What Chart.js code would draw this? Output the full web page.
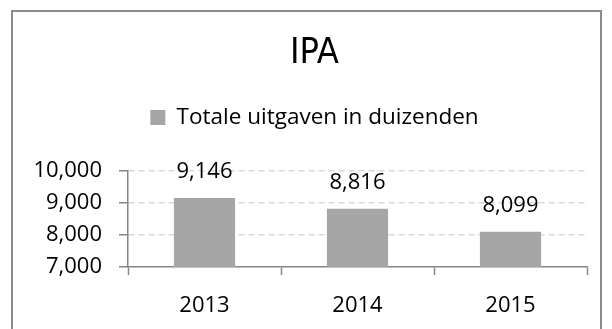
<!DOCTYPE html>
<html>
<head>
<meta charset="utf-8">
<script src="https://cdn.jsdelivr.net/npm/chart.js@4.4.1/dist/chart.umd.min.js"></script>
<style>
  html, body { margin: 0; padding: 0; background: #fff; }
  #frame {
    position: absolute; left: 11px; top: 10px;
    width: 591px; height: 400px;
    box-sizing: border-box;
    border: 2px solid #8c8c8c;
  }
  #grafiek { position: absolute; left: 0; top: 0; }
</style>
</head>
<body>
<div id="frame"></div>
<canvas id="grafiek" width="612" height="329"></canvas>
<script>
// Totale uitgaven IPA per jaar (in duizenden)
const jaren = ['2013', '2014', '2015'];
const uitgaven = [9146, 8816, 8099];
const asMin = 7000;
const asMax = 10000;
const asStap = 1000;

const asKleur = '#868686';
const balkKleur = '#a6a6a6';
const font = "'Open Sans', 'Liberation Sans', sans-serif";

const fmt = (v) => Number(v).toLocaleString('en-US');

// extra ruimte tussen legenda en grafiek, titel + legenda iets naar rechts
const legendaRuimte = {
    id: 'legendaRuimte',
    beforeInit(chart) {
        const origFit = chart.legend.fit;
        chart.legend.fit = function () {
            origFit.call(this);
            this.height += 32;
        };
    },
    afterLayout(chart) {
        [chart.titleBlock, chart.legend].forEach((b) => {
            b.left += 7;
            b.right += 7;
        });
    }
};

// waarde boven elke balk
const waardeLabels = {
    id: 'waardeLabels',
    afterDatasetsDraw(chart) {
        const ctx = chart.ctx;
        const meta = chart.getDatasetMeta(0);
        ctx.save();
        ctx.font = `22px ${font}`;
        ctx.fillStyle = '#000';
        ctx.textAlign = 'center';
        ctx.textBaseline = 'middle';
        meta.data.forEach((bar, i) => {
            ctx.fillText(fmt(chart.data.datasets[0].data[i]), bar.x, bar.y - 26);
        });
        ctx.restore();
    }
};

new Chart(document.getElementById('grafiek').getContext('2d'), {
    type: 'bar',
    data: {
        labels: jaren,
        datasets: [{
            label: 'Totale uitgaven in duizenden',
            data: uitgaven,
            backgroundColor: balkKleur,
            borderWidth: 0,
            categoryPercentage: 1,
            barPercentage: 0.4
        }]
    },
    options: {
        responsive: false,
        animation: false,
        layout: { padding: { left: 28, right: 25, top: 0, bottom: 12 } },
        scales: {
            x: {
                afterFit: (scale) => { scale.height = 50; },
                grid: {
                    offset: true,
                    drawOnChartArea: false,
                    tickLength: 8,
                    tickColor: asKleur,
                    tickWidth: 1.5
                },
                border: { color: asKleur, width: 1.5 },
                ticks: { color: '#000', padding: 18, font: { family: font, size: 22 } }
            },
            y: {
                min: asMin,
                max: asMax,
                afterFit: (scale) => { scale.width = 100; },
                grid: {
                    color: (c) => (c.tick && c.tick.value === asMin) ? 'rgba(0,0,0,0)' : '#d9d9d9',
                    lineWidth: 1.5,
                    tickLength: 9,
                    tickColor: asKleur,
                    tickWidth: 1.5
                },
                border: { color: asKleur, width: 1.5, dash: [6, 4] },
                ticks: {
                    stepSize: asStap,
                    autoSkip: false,
                    color: '#000',
                    padding: 17,
                    font: { family: font, size: 22 },
                    callback: (v) => fmt(v)
                }
            }
        },
        plugins: {
            title: {
                display: true,
                text: 'IPA',
                color: '#000',
                font: { family: "'Liberation Sans Narrow', 'DejaVu Sans Condensed', sans-serif", size: 36, weight: 'normal' },
                padding: { top: 32, bottom: 21 }
            },
            legend: {
                labels: {
                    color: '#000',
                    boxWidth: 15,
                    boxHeight: 15,
                    padding: 10,
                    font: { family: font, size: 22.5 }
                }
            },
            tooltip: { enabled: false }
        }
    },
    plugins: [legendaRuimte, waardeLabels]
});
</script>
</body>
</html>
